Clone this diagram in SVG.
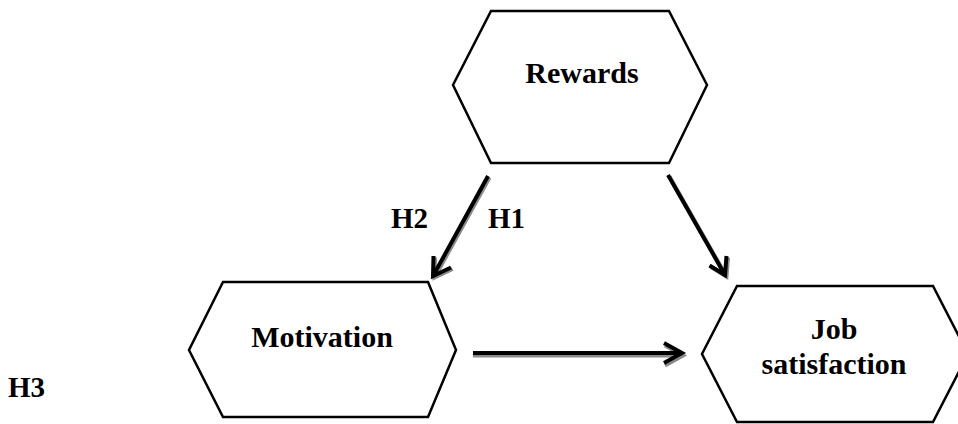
<svg xmlns="http://www.w3.org/2000/svg" width="958" height="424" viewBox="0 0 958 424">
<style>
.hex{fill:#fff;stroke:#000;stroke-width:2.5;stroke-linejoin:miter}
.lbl{font-family:"Liberation Serif","Times New Roman",serif;font-weight:bold;font-size:30px;fill:#000;text-anchor:middle}
.hl{font-family:"Liberation Serif","Times New Roman",serif;font-weight:bold;font-size:29px;fill:#000}
.sh{fill:none;stroke:#8a8a8a;stroke-width:4;stroke-linecap:butt;stroke-linejoin:miter}
.ar{fill:none;stroke:#000;stroke-width:4;stroke-linecap:butt;stroke-linejoin:miter}
</style>
<rect width="958" height="424" fill="#fff"/>
<g id="connectors">
  <g id="e-rewards-motivation">
    <path class="sh" d="M489.5,177.5 L434.5,277.5 M435,257.5 L434.5,277.5 L452.5,269"/>
    <path class="ar" d="M488,176 L433,276 M433.5,256 L433,276 L451,267.5"/>
  </g>
  <g id="e-rewards-job">
    <path class="sh" d="M669.5,176.5 L726.5,276.5 M728,257.5 L726.5,276.5 L711,267"/>
    <path class="ar" d="M668,175 L725,275 M726.5,256 L725,275 L709.5,265.5"/>
  </g>
  <g id="e-motivation-job">
    <path class="sh" d="M473,355.5 L683,355.5 M665,345.5 L683,355.5 L665,365.5"/>
    <path class="ar" d="M473,353 L682,353 M664,343 L682,353 L664,363"/>
  </g>
</g>
<g id="node-rewards">
  <polygon class="hex" points="491,11 669,11 707,85 669,163 491,163 453,85"/>
  <text class="lbl" x="582" y="83">Rewards</text>
</g>
<g id="node-motivation">
  <polygon class="hex" points="223,282 428,282 456,350 428,417 223,417 189,350"/>
  <text class="lbl" x="322" y="347">Motivation</text>
</g>
<g id="node-job">
  <polygon class="hex" points="737,286 933,286 968,354 933,422 737,422 702,354"/>
  <text class="lbl" x="834" y="339">Job</text>
  <text class="lbl" x="834" y="374">satisfaction</text>
</g>
<text class="hl" x="391" y="228">H2</text>
<text class="hl" x="488" y="228">H1</text>
<text class="hl" x="8" y="397">H3</text>
</svg>
